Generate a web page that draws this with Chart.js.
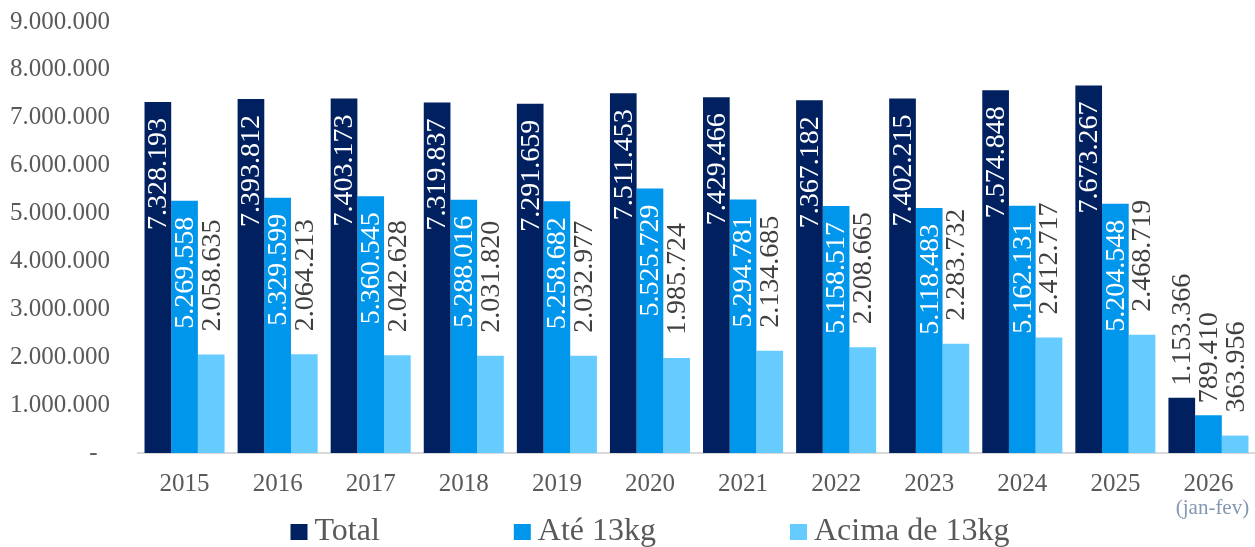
<!DOCTYPE html>
<html>
<head>
<meta charset="utf-8">
<script src="https://cdn.jsdelivr.net/npm/chart.js@4.4.1/dist/chart.umd.min.js"></script>
<style>
  html, body { margin: 0; padding: 0; background: #fff; }
  #wrap { width: 1255px; height: 547px; position: relative; }
</style>
</head>
<body>
<div id="wrap"><canvas id="chart"></canvas></div>
<script>
// ─── Data ───

const years = ['2015', '2016', '2017', '2018', '2019', '2020', '2021', '2022', '2023', '2024', '2025', '2026'];
const total = [7328193, 7393812, 7403173, 7319837, 7291659, 7511453, 7429466, 7367182, 7402215, 7574848, 7673267, 1153366];
const ate13 = [5269558, 5329599, 5360545, 5288016, 5258682, 5525729, 5294781, 5158517, 5118483, 5162131, 5204548, 789410];
const acima13 = [2058635, 2064213, 2042628, 2031820, 2032977, 1985724, 2134685, 2208665, 2283732, 2412717, 2468719, 363956];
const yTicks = [0, 1000000, 2000000, 3000000, 4000000, 5000000, 6000000, 7000000, 8000000, 9000000];
const partialNote = '(jan-fev)';

// ─── Style ───

const FONT = "'Liberation Serif', 'DejaVu Serif', serif";
const COLORS = {
  total: '#002060',
  ate:   '#0096EC',
  acima: '#66CCFF',
  text:  '#595959',
  label: '#404040',
  note:  '#8497B0',
  axis:  '#D9D9D9',
};

// pt-BR thousands separator
const fmt = v => String(Math.round(v)).replace(/\B(?=(\d{3})+(?!\d))/g, '.');

// ─── Plugin: rotated value labels (inside end if it fits, otherwise outside) ───

const barLabels = {
  id: 'barLabels',
  afterDatasetsDraw(chart) {
    const { ctx } = chart;
    ctx.save();
    ctx.font = `28px ${FONT}`;
    ctx.textBaseline = 'middle';
    chart.data.datasets.forEach((ds, di) => {
      const meta = chart.getDatasetMeta(di);
      meta.data.forEach((bar, i) => {
        const txt = fmt(ds.data[i]);
        const w = ctx.measureText(txt).width;
        const h = bar.base - bar.y;
        const inside = ds.labelInside && w + 24 < h;
        ctx.save();
        if (inside) {
          ctx.translate(bar.x, bar.y + 16);
          ctx.rotate(-Math.PI / 2);
          ctx.textAlign = 'right';
          ctx.fillStyle = '#ffffff';
        } else {
          ctx.translate(bar.x, bar.y - ds.labelGap);
          ctx.rotate(-Math.PI / 2);
          ctx.textAlign = 'left';
          ctx.fillStyle = COLORS.label;
        }
        ctx.fillText(txt, 0, 1);
        ctx.restore();
      });
    });
    ctx.restore();
  },
};

// ─── Plugin: "(jan-fev)" note under the last category ───

const partialYear = {
  id: 'partialYear',
  afterDraw(chart) {
    const { ctx, scales } = chart;
    const x = scales.x.getPixelForValue(years.length - 1) + 4;
    ctx.save();
    ctx.font = `21px ${FONT}`;
    ctx.fillStyle = COLORS.note;
    ctx.textAlign = 'center';
    ctx.textBaseline = 'middle';
    ctx.fillText(partialNote, x, chart.chartArea.bottom + 55);
    ctx.restore();
  },
};

// ─── Plugin: legend with wide, even spacing (Excel style) ───

const wideLegend = {
  id: 'wideLegend',
  afterDraw(chart) {
    const { ctx } = chart;
    const gap = 134;
    ctx.save();
    ctx.font = `32px ${FONT}`;
    ctx.textBaseline = 'middle';
    ctx.textAlign = 'left';
    const items = chart.data.datasets.map(ds => ({
      label: ds.label,
      color: ds.backgroundColor,
      w: 17 + 7 + ctx.measureText(ds.label).width,
    }));
    const totalW = items.reduce((s, it) => s + it.w, 0) + gap * (items.length - 1);
    let x = 650 - totalW / 2;
    const y = chart.chartArea.bottom + 79;
    items.forEach(it => {
      ctx.fillStyle = it.color;
      ctx.fillRect(x, y - 8, 17, 16);
      ctx.fillStyle = COLORS.text;
      ctx.fillText(it.label, x + 24, y);
      x += it.w + gap;
    });
    ctx.restore();
  },
};

// ─── Chart ───

new Chart(document.getElementById('chart'), {
  type: 'bar',
  data: {
    labels: years,
    datasets: [
      { label: 'Total', data: total, backgroundColor: COLORS.total, labelInside: true, labelGap: 12 },
      { label: 'Até 13kg', data: ate13, backgroundColor: COLORS.ate, labelInside: true, labelGap: 12 },
      { label: 'Acima de 13kg', data: acima13, backgroundColor: COLORS.acima, labelInside: false, labelGap: 23 },
    ],
  },
  options: {
    responsive: true,
    maintainAspectRatio: false,
    animation: false,
    datasets: { bar: { categoryPercentage: 0.86, barPercentage: 1.0 } },
    layout: { padding: { top: 22, left: 0, right: 0, bottom: 32 } },
    plugins: {
      tooltip: { enabled: false },
      legend: { display: false },
    },
    scales: {
      x: {
        grid: { display: false, drawTicks: false },
        border: { display: true, color: COLORS.axis, width: 2 },
        ticks: { color: COLORS.text, padding: 16, font: { family: FONT, size: 25 } },
      },
      y: {
        min: 0,
        max: 9000000,
        afterBuildTicks: scale => { scale.ticks = yTicks.map(v => ({ value: v })); },
        // fixed label column; tick padding should not push the plot down
        afterFit: scale => {
          scale.width = 138;
          scale.paddingTop = 15;
          scale.paddingBottom = 15;
        },
        grid: { display: false, drawTicks: false },
        border: { display: false },
        ticks: {
          autoSkip: false,
          color: COLORS.text,
          padding: 28,
          font: { family: FONT, size: 25 },
          callback: v => (v === 0 ? '-  ' : fmt(v)),
        },
      },
    },
  },
  plugins: [barLabels, partialYear, wideLegend],
});
</script>
</body>
</html>
